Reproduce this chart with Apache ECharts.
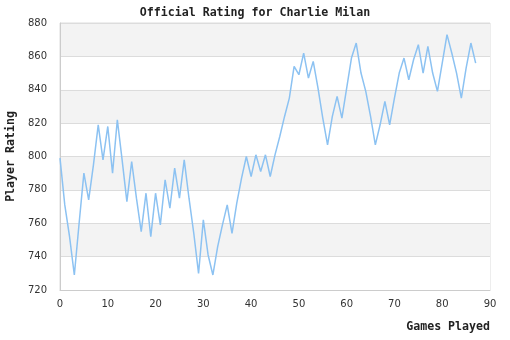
<!DOCTYPE html>
<html>
<head>
<meta charset="utf-8">
<script src="https://cdn.jsdelivr.net/npm/echarts@6/dist/echarts.min.js"></script>
<style>
  html, body { margin: 0; padding: 0; background: #ffffff; }
  #chart { width: 510px; height: 340px; }
</style>
</head>
<body>
<div id="chart"></div>
<script>
// Official rating after each game played
const games = [];
const ratings = [
  799, 771, 752, 729, 760, 790, 774, 795, 819, 798,
  818, 790, 822, 798, 773, 797, 775, 755, 778, 752,
  778, 759, 786, 769, 793, 775, 798, 775, 754, 730,
  762, 741, 729, 746, 759, 771, 754, 772, 787, 800,
  788, 801, 791, 801, 788, 801, 812, 824, 835, 854,
  849, 862, 847, 857, 841, 823, 807, 824, 836, 823,
  841, 859, 868, 850, 839, 824, 807, 819, 833, 819,
  835, 850, 859, 846, 858, 867, 850, 866, 850, 839,
  856, 873, 862, 850, 835, 853, 868, 856
];
for (let i = 0; i < ratings.length; i++) games.push(i);

const titleText = 'Official Rating for Charlie Milan';
const xAxisName = 'Games Played';
const yAxisName = 'Player Rating';

const monoBold = { fontFamily: 'DejaVu Sans Mono', fontWeight: 'bold', fontSize: 11.6, color: '#222' };

const chart = echarts.init(document.getElementById('chart'), null, { renderer: 'canvas' });
chart.setOption({
  animation: false,
  backgroundColor: '#ffffff',
  title: {
    text: titleText,
    left: 'center',
    top: 2,
    textStyle: monoBold
  },
  grid: {
    left: 60, right: 20, top: 23, bottom: 50,
    outerBoundsMode: 'none',
    containLabel: false,
    show: true,
    borderColor: '#dcdcdc',
    borderWidth: 1
  },
  xAxis: {
    type: 'value',
    min: 0, max: 90, interval: 10,
    name: xAxisName,
    nameLocation: 'end',
    nameGap: 0,
    nameTextStyle: Object.assign({}, monoBold, { align: 'right', verticalAlign: 'top', padding: [31, 0, 0, 0] }),
    axisLine: { show: true, lineStyle: { color: '#cccccc' } },
    axisTick: { show: false },
    splitLine: { show: false },
    axisLabel: { fontFamily: 'DejaVu Sans', fontSize: 10, color: '#333', margin: 9 }
  },
  yAxis: {
    type: 'value',
    min: 720, max: 880, interval: 20,
    name: yAxisName,
    nameLocation: 'middle',
    nameGap: 42,
    nameTextStyle: monoBold,
    axisLine: { show: true, lineStyle: { color: '#cccccc' } },
    axisTick: { show: false },
    splitLine: { show: true, lineStyle: { color: '#dcdcdc' } },
    splitArea: { show: true, areaStyle: { color: ['#ffffff', '#f3f3f3'] } },
    axisLabel: { fontFamily: 'DejaVu Sans', fontSize: 10, color: '#333', margin: 13 }
  },
  series: [{
    type: 'line',
    data: games.map((g, i) => [g, ratings[i]]),
    showSymbol: false,
    lineStyle: { color: '#8cc2f2', width: 1.5 },
    itemStyle: { color: '#8cc2f2' }
  }]
});
</script>
</body>
</html>
